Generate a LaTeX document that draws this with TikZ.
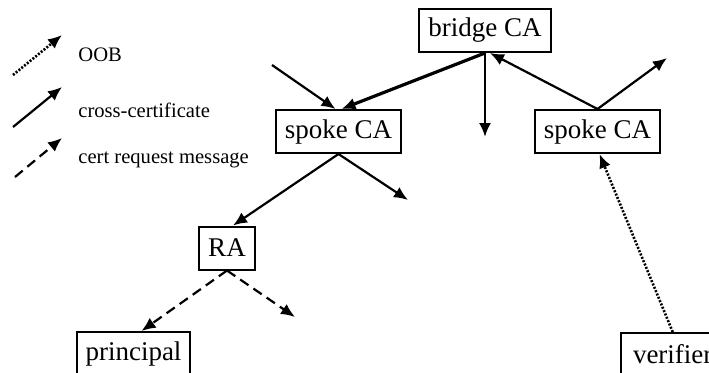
\documentclass[tikz,border=0pt]{standalone}
\usepackage{fontspec}
\setmainfont{Liberation Serif}
\usetikzlibrary{arrows.meta}
\tikzset{
  ca/.style={draw,line width=1pt,inner xsep=4.5pt,minimum height=21.5pt,
    font=\fontsize{13.5}{16}\selectfont},
  key/.style={anchor=west,inner sep=0pt,font=\fontsize{10.3}{12}\selectfont},
  cert/.style={line width=1.1pt,-{Latex[length=7pt,width=6pt]}},
  req/.style={cert,dash pattern=on 5pt off 3pt},
  oob/.style={cert,line width=1.3pt,dash pattern=on 1pt off 0.8pt}
}

\begin{document}
\begin{tikzpicture}[x=0.5pt,y=-0.5pt]
    \clip (0,0) rectangle (709,372);
    % Boxes
    \node[ca] (bridge) at (485,30.5) {bridge CA};
    \node[ca] (spokeL) at (338.5,131.5) {spoke CA};
    \node[ca] (spokeR) at (597.5,131.5) {spoke CA};
    \node[ca] (ra) at (227,248) {RA};
    \node[ca] (principal) at (133.5,353.5) {principal};
    \node[ca,anchor=north west,inner xsep=6pt] (verifier) at (620,332) {verifier};
    % Loose ends
    \coordinate (inL) at (272,65);
    \coordinate (down) at (485,137);
    \coordinate (outR) at (667,58);
    \coordinate (outL) at (408,200);
    \coordinate (raOut) at (295,317);
    % Cross-certificates
    \draw[cert] (inL) -- ([xshift=-1.5pt]spokeL.north);
    \draw[cert,line width=1.6pt] (bridge.south) -- ([xshift=1.5pt]spokeL.north);
    \draw[cert] (bridge.south) -- (down);
    \draw[cert] (spokeR.north) -- ([xshift=2.5pt]bridge.south);
    \draw[cert] (spokeR.north) -- (outR);
    \draw[cert] (spokeL.south) -- ([xshift=3pt]ra.north);
    \draw[cert] (spokeL.south) -- (outL);
    % Requests
    \draw[req] (ra.south) -- ([xshift=4pt]principal.north);
    \draw[req] (ra.south) -- (raOut);
    \draw[oob] (verifier.north) -- ([xshift=1pt]spokeR.south);
    % Legend
    \coordinate (k1a) at (13,75);  \coordinate (k1b) at (62,35);
    \coordinate (k2a) at (13,127); \coordinate (k2b) at (62,87);
    \coordinate (k3a) at (15,177); \coordinate (k3b) at (62,138);
    \draw[oob] (k1a) -- (k1b);
    \draw[cert] (k2a) -- (k2b);
    \draw[req] (k3a) -- (k3b);
    \node[key] (oobKey) at (78,55) {OOB};
    \node[key] (certKey) at (78,110) {cross-certificate};
    \node[key] (reqKey) at (78,160) {cert request message};
\end{tikzpicture}
\end{document}
